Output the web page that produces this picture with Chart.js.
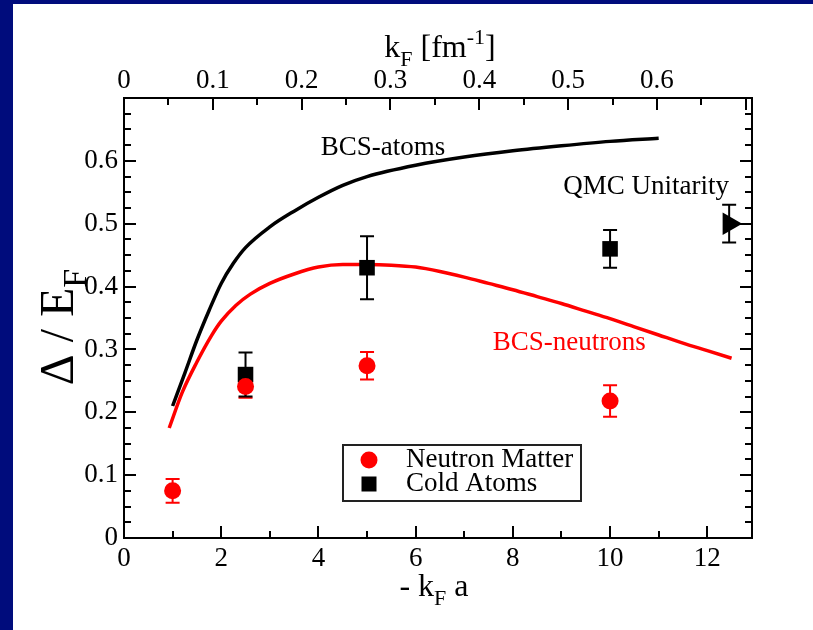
<!DOCTYPE html>
<html>
<head>
<meta charset="utf-8">
<script src="https://cdn.jsdelivr.net/npm/chart.js@4.4.1/dist/chart.umd.min.js"></script>
<style>
  html, body { margin: 0; padding: 0; background: #000c7c; }
  body { width: 813px; height: 630px; overflow: hidden; position: relative; }
  #wrap { position: absolute; left: 13px; top: 4px; width: 800px; height: 626px; background: #fff; }
</style>
</head>
<body>
<div id="wrap"><canvas id="chart" width="800" height="626"></canvas></div>
<script>
// BCS curves (gap / E_F vs -kF a)
const atomKa = [1.0, 1.25, 1.5, 1.75, 2.0, 2.25, 2.5, 3.0, 3.5, 4.0, 4.5, 5.0, 6.0, 7.0, 8.0, 9.0, 10.0, 11.0];
const atomGap = [0.21, 0.262, 0.315, 0.362, 0.405, 0.437, 0.462, 0.495, 0.52, 0.542, 0.561, 0.575, 0.593, 0.606, 0.616, 0.624, 0.631, 0.636];

const neutronKa = [0.93, 1.2, 1.5, 1.8, 2.0, 2.3, 2.6, 3.0, 3.5, 4.0, 4.5, 5.0, 5.5, 6.0, 6.5, 7.0, 7.5, 8.0, 8.5, 9.0, 9.5, 10.0, 10.5, 11.0, 11.5, 12.0, 12.5];
const neutronGap = [0.175, 0.232, 0.28, 0.322, 0.345, 0.37, 0.388, 0.405, 0.42, 0.431, 0.435, 0.435, 0.434, 0.431, 0.424, 0.415, 0.405, 0.395, 0.384, 0.373, 0.361, 0.349, 0.336, 0.323, 0.31, 0.298, 0.286];

// QMC points with error bars
const nmKa = [1, 2.5, 5, 10];
const nmGap = [0.075, 0.241, 0.274, 0.218];
const nmErr = [0.019, 0.018, 0.022, 0.025];

const caKa = [2.5, 5, 10];
const caGap = [0.26, 0.43, 0.46];
const caErr = [0.035, 0.05, 0.03];

const uniKa = [12.45];
const uniGap = [0.5];
const uniErr = [0.03];

// tick labels
const xTicks = [0, 2, 4, 6, 8, 10, 12];
const kfTicks = [0, 0.1, 0.2, 0.3, 0.4, 0.5, 0.6];
const yTicks = [0, 0.1, 0.2, 0.3, 0.4, 0.5, 0.6];

const SERIF = '"Liberation Serif", "Times New Roman", serif';
const RED = '#ff0000';

const pts = (xs, ys) => xs.map((x, i) => ({ x: x, y: ys[i] }));

// draws text made of pieces, some sub/superscript
function richText(ctx, parts, x, y, size, align) {
    const small = Math.round(size * 0.7);
    let total = 0;
    parts.forEach(p => {
        ctx.font = (p.sub || p.sup ? small : size) + 'px ' + SERIF;
        p.w = ctx.measureText(p.t).width;
        total += p.w;
    });
    let cx = align === 'center' ? x - total / 2 : x;
    ctx.textBaseline = 'alphabetic';
    ctx.textAlign = 'left';
    parts.forEach(p => {
        ctx.font = (p.sub || p.sup ? small : size) + 'px ' + SERIF;
        let dy = 0;
        if (p.sub) dy = size * 0.28;
        if (p.sup) dy = -size * 0.42;
        ctx.fillText(p.t, cx, y + dy);
        cx += p.w;
    });
}

const decor = {
    id: 'decor',
    beforeDatasetsDraw(chart) {
        const ctx = chart.ctx;
        const xs = chart.scales.x, ys = chart.scales.y;
        // error bars
        chart.data.datasets.forEach(ds => {
            if (!ds.errors) return;
            ctx.save();
            ctx.strokeStyle = ds.barColor;
            ctx.lineWidth = 2;
            ds.data.forEach((p, i) => {
                const px = xs.getPixelForValue(p.x);
                const top = ys.getPixelForValue(p.y + ds.errors[i]);
                const bot = ys.getPixelForValue(p.y - ds.errors[i]);
                ctx.beginPath();
                ctx.moveTo(px, top); ctx.lineTo(px, bot);
                ctx.moveTo(px - 7, top); ctx.lineTo(px + 7, top);
                ctx.moveTo(px - 7, bot); ctx.lineTo(px + 7, bot);
                ctx.stroke();
            });
            ctx.restore();
        });
    },
    afterDraw(chart) {
        const ctx = chart.ctx;
        const a = chart.chartArea;
        const xs = chart.scales.x, ys = chart.scales.y, ks = chart.scales.kf;
        ctx.save();
        ctx.strokeStyle = '#000';
        ctx.lineWidth = 2;
        ctx.strokeRect(a.left, a.top, a.right - a.left, a.bottom - a.top);

        const tick = (x1, y1, x2, y2) => { ctx.beginPath(); ctx.moveTo(x1, y1); ctx.lineTo(x2, y2); ctx.stroke(); };
        // bottom axis ticks (major 2, minor 1)
        for (let v = 0; v <= xs.max + 1e-9; v += 1) {
            const px = Math.round(xs.getPixelForValue(v));
            const len = v % 2 === 0 ? 12 : 7;
            tick(px, a.bottom, px, a.bottom - len);
        }
        // top axis ticks (kF)
        for (let i = 0; i * 0.05 <= ks.max + 1e-9; i++) {
            const px = Math.round(ks.getPixelForValue(i * 0.05));
            const len = i % 2 === 0 ? 12 : 7;
            tick(px, a.top, px, a.top + len);
        }
        // left / right ticks
        for (let i = 0; i * 0.025 <= ys.max + 1e-9; i++) {
            const py = Math.round(ys.getPixelForValue(i * 0.025));
            const len = i % 4 === 0 ? 12 : 7;
            tick(a.left, py, a.left + len, py);
            tick(a.right, py, a.right - len, py);
        }

        ctx.fillStyle = '#000';
        const midX = (a.left + a.right) / 2;
        // axis titles
        richText(ctx, [{ t: 'k' }, { t: 'F', sub: true }, { t: ' [fm' }, { t: '-1', sup: true }, { t: ']' }], midX + 2, 53, 32, 'center');
        richText(ctx, [{ t: '- k' }, { t: 'F', sub: true }, { t: ' a' }], midX - 4, 592, 32, 'center');
        ctx.save();
        ctx.translate(60, (a.top + a.bottom) / 2 + 9);
        ctx.rotate(-Math.PI / 2);
        richText(ctx, [{ t: '\u0394 / E' }, { t: 'F', sub: true }], 0, 0, 48, 'center');
        ctx.restore();

        // curve labels
        ctx.font = '27px ' + SERIF;
        ctx.textAlign = 'center';
        ctx.textBaseline = 'middle';
        ctx.fillStyle = '#000';
        ctx.fillText('BCS-atoms', xs.getPixelForValue(5.33), ys.getPixelForValue(0.62));
        ctx.fillText('QMC Unitarity', xs.getPixelForValue(10.74), ys.getPixelForValue(0.558));
        ctx.fillStyle = RED;
        ctx.fillText('BCS-neutrons', xs.getPixelForValue(9.16), ys.getPixelForValue(0.31));

        // legend box
        const bx = a.left + 219, by = a.top + 347;
        ctx.lineWidth = 2;
        ctx.strokeStyle = '#222';
        ctx.strokeRect(bx, by, 238, 56);
        ctx.fillStyle = RED;
        ctx.beginPath();
        ctx.arc(bx + 26, by + 15, 8.5, 0, Math.PI * 2);
        ctx.fill();
        ctx.fillStyle = '#000';
        ctx.fillRect(bx + 26 - 7.5, by + 39 - 7.5, 15, 15);
        ctx.textAlign = 'left';
        ctx.fillText(chart.data.datasets[0].label, bx + 63, by + 15);
        ctx.fillText(chart.data.datasets[1].label, bx + 63, by + 39);
        ctx.restore();
    }
};

const fmt = v => String(+Number(v).toFixed(1));
const tickFont = { family: SERIF, size: 27 };

new Chart(document.getElementById('chart'), {
    type: 'scatter',
    data: {
        datasets: [
            { label: 'Neutron Matter', data: pts(nmKa, nmGap), errors: nmErr, barColor: RED,
              pointStyle: 'circle', pointRadius: 8.5, backgroundColor: RED, borderWidth: 0 },
            { label: 'Cold Atoms', data: pts(caKa, caGap), errors: caErr, barColor: '#000',
              pointStyle: 'rect', pointRadius: 11, backgroundColor: '#000', borderWidth: 0 },
            { label: 'QMC Unitarity', data: pts(uniKa, uniGap), errors: uniErr, barColor: '#000',
              pointStyle: 'triangle', rotation: 90, pointRadius: 13, backgroundColor: '#000', borderWidth: 0 },
            { label: 'BCS-atoms', data: pts(atomKa, atomGap), showLine: true, pointRadius: 0,
              borderColor: '#000', borderWidth: 3.5, cubicInterpolationMode: 'monotone' },
            { label: 'BCS-neutrons', data: pts(neutronKa, neutronGap), showLine: true, pointRadius: 0,
              borderColor: RED, borderWidth: 3.5, cubicInterpolationMode: 'monotone' }
        ]
    },
    options: {
        responsive: false,
        animation: false,
        layout: { padding: { left: 0, right: 61, top: 0, bottom: 0 } },
        plugins: { legend: { display: false }, tooltip: { enabled: false } },
        scales: {
            x: {
                type: 'linear', position: 'bottom', min: 0, max: 12.92,
                afterBuildTicks: s => { s.ticks = xTicks.map(v => ({ value: v })); },
                afterFit: s => { s.height = 92; },
                ticks: { font: tickFont, color: '#000', padding: 5, maxRotation: 0, autoSkip: false, callback: fmt },
                grid: { display: false, drawTicks: false },
                border: { display: false }
            },
            kf: {
                type: 'linear', position: 'top', min: 0, max: 0.707,
                afterBuildTicks: s => { s.ticks = kfTicks.map(v => ({ value: v })); },
                afterFit: s => { s.height = 94; },
                ticks: { font: tickFont, color: '#000', padding: 1, maxRotation: 0, autoSkip: false, callback: fmt },
                grid: { display: false, drawTicks: false },
                border: { display: false }
            },
            y: {
                type: 'linear', position: 'left', min: 0, max: 0.7,
                afterBuildTicks: s => { s.ticks = yTicks.map(v => ({ value: v })); },
                afterFit: s => { s.width = 111; },
                ticks: { font: tickFont, color: '#000', padding: 6, autoSkip: false, callback: fmt },
                grid: { display: false, drawTicks: false },
                border: { display: false }
            }
        }
    },
    plugins: [decor]
});
</script>
</body>
</html>
